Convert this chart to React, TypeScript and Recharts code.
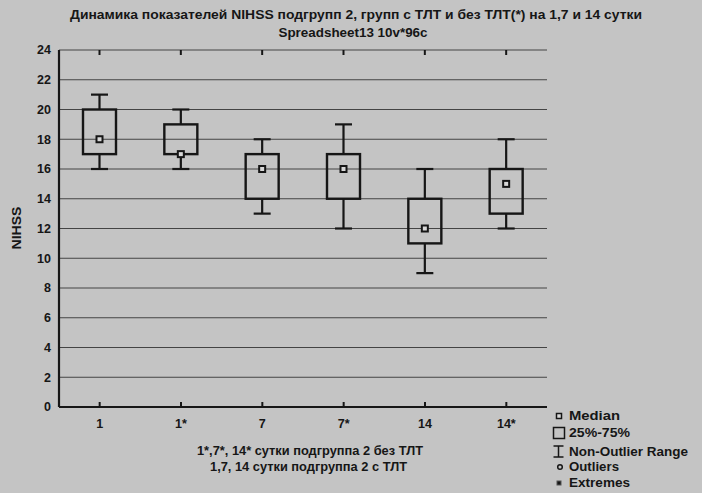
import React from 'react';
import { ComposedChart, Bar, XAxis, YAxis, CartesianGrid } from 'recharts';

const categories = ['1', '1*', '7', '7*', '14', '14*'];
const minValues = [16, 16, 13, 12, 9, 12];
const q1Values = [17, 17, 14, 14, 11, 13];
const medianValues = [18, 17, 16, 16, 12, 15];
const q3Values = [20, 19, 17, 17, 14, 16];
const maxValues = [21, 20, 18, 19, 16, 18];
const yTicks = [0, 2, 4, 6, 8, 10, 12, 14, 16, 18, 20, 22, 24];
const Y_TOP = yTicks[yTicks.length - 1];

const titleLine1 = 'Динамика показателей NIHSS подгрупп 2, групп с ТЛТ и без ТЛТ(*) на 1,7 и 14 сутки';
const titleLine2 = 'Spreadsheet13 10v*96c';
const xTitle1 = '1*,7*, 14* сутки подгруппа 2 без ТЛТ';
const xTitle2 = '1,7, 14 сутки подгруппа 2 с ТЛТ';
const yTitle = 'NIHSS';
const legendLabels = ['Median', '25%-75%', 'Non-Outlier Range', 'Outliers', 'Extremes'];

const data = categories.map((cat, i) => ({
  cat,
  min: minValues[i],
  q1: q1Values[i],
  median: medianValues[i],
  q3: q3Values[i],
  max: maxValues[i],
  range: [minValues[i], maxValues[i]],
}));

const INK = '#161616';
const BG = '#c4c4c4';
const FONT = "'Liberation Sans', Arial, sans-serif";

const BoxShape = (props: any) => {
  const { x, y, width, height, payload } = props;
  if (payload == null || height == null) return null;
  const span = payload.max - payload.min;
  const ppu = span > 0 ? height / span : 0;
  const toY = (v: number) => y + (payload.max - v) * ppu;
  const cx = x + width / 2;
  const capHalf = 8.5;
  const yMax = toY(payload.max);
  const yQ3 = toY(payload.q3);
  const yMed = toY(payload.median);
  const yQ1 = toY(payload.q1);
  const yMin = toY(payload.min);
  const yFrame = toY(Y_TOP);
  return (
    <g>
      <line x1={cx} x2={cx} y1={yFrame} y2={yFrame + 5} stroke={INK} strokeWidth={2} />
      <line x1={cx} x2={cx} y1={yMax} y2={yQ3} stroke={INK} strokeWidth={2.2} />
      <line x1={cx} x2={cx} y1={yQ1} y2={yMin} stroke={INK} strokeWidth={2.2} />
      <line x1={cx - capHalf} x2={cx + capHalf} y1={yMax} y2={yMax} stroke={INK} strokeWidth={2.2} />
      <line x1={cx - capHalf} x2={cx + capHalf} y1={yMin} y2={yMin} stroke={INK} strokeWidth={2.2} />
      <rect x={x} y={yQ3} width={width} height={yQ1 - yQ3} fill="none" stroke={INK} strokeWidth={2.4} />
      <rect x={cx - 3} y={yMed - 3} width={6} height={6} fill="#d8d8d8" stroke={INK} strokeWidth={2} />
    </g>
  );
};

const BottomTick = (props: any) => {
  const { x, y, payload } = props;
  return (
    <g>
      <line x1={x} x2={x} y1={y} y2={y - 5} stroke={INK} strokeWidth={2} />
      <text x={x} y={y + 21} textAnchor="middle" fontFamily={FONT} fontWeight="bold" fontSize={12.5} fill={INK}>
        {payload.value}
      </text>
    </g>
  );
};

export default function App() {
  return (
    <div style={{ position: 'absolute', left: 0, top: 0, width: 702, height: 493, background: BG, overflow: 'hidden' }}>
      <ComposedChart
        width={702}
        height={493}
        data={data}
        margin={{ top: 50, right: 155, bottom: 0, left: 0 }}
      >
        <CartesianGrid horizontal vertical={false} stroke="#444" strokeWidth={1.2} />
        <XAxis
          dataKey="cat"
          height={86}
          axisLine={{ stroke: INK, strokeWidth: 2.2 }}
          tickLine={false}
          tickSize={0}
          tickMargin={0}
          tick={<BottomTick />}
          interval={0}
        />
        <YAxis
          width={59}
          domain={[0, Y_TOP]}
          ticks={yTicks}
          interval={0}
          axisLine={{ stroke: INK, strokeWidth: 2.2 }}
          tickLine={false}
          tick={{ fontFamily: FONT, fontWeight: 'bold', fontSize: 12.5, fill: INK }}
        />
        <YAxis
          yAxisId="right"
          orientation="right"
          width={0}
          domain={[0, Y_TOP]}
          ticks={yTicks}
          axisLine={{ stroke: INK, strokeWidth: 2 }}
          tick={false}
          tickLine={false}
        />
        <Bar dataKey="range" barSize={33} fill="none" shape={<BoxShape />} isAnimationActive={false} />
      </ComposedChart>
      <svg
        width={702}
        height={493}
        style={{ position: 'absolute', left: 0, top: 0, pointerEvents: 'none' }}
        fontFamily={FONT}
        fontWeight="bold"
        fill={INK}
      >
        <text x={356} y={19} textAnchor="middle" fontSize={12.5} textLength={572} lengthAdjust="spacingAndGlyphs">
          {titleLine1}
        </text>
        <text x={353} y={37} textAnchor="middle" fontSize={12.5} textLength={149} lengthAdjust="spacingAndGlyphs">
          {titleLine2}
        </text>
        <text x={310} y={455} textAnchor="middle" fontSize={12.5} textLength={226} lengthAdjust="spacingAndGlyphs">
          {xTitle1}
        </text>
        <text x={308.5} y={471} textAnchor="middle" fontSize={12.5} textLength={197} lengthAdjust="spacingAndGlyphs">
          {xTitle2}
        </text>
        <text
          x={0}
          y={0}
          transform="translate(21,228) rotate(-90)"
          textAnchor="middle"
          fontSize={12.5}
          textLength={43}
          lengthAdjust="spacingAndGlyphs"
        >
          {yTitle}
        </text>
        {/* legend */}
        <rect x={556.5} y={413.5} width={5} height={5} fill="#d8d8d8" stroke={INK} strokeWidth={1.5} />
        <text x={569} y={420} fontSize={12.5} textLength={51} lengthAdjust="spacingAndGlyphs">{legendLabels[0]}</text>
        <rect x={553.5} y={427.5} width={11} height={11} fill="none" stroke={INK} strokeWidth={1.5} />
        <text x={569} y={437} fontSize={12.5} textLength={61} lengthAdjust="spacingAndGlyphs">{legendLabels[1]}</text>
        <line x1={558.5} x2={558.5} y1={446} y2={457} stroke={INK} strokeWidth={1.5} />
        <line x1={553.5} x2={563.5} y1={446} y2={446} stroke={INK} strokeWidth={1.5} />
        <line x1={553.5} x2={563.5} y1={457} y2={457} stroke={INK} strokeWidth={1.5} />
        <text x={569} y={456} fontSize={12.5} textLength={119} lengthAdjust="spacingAndGlyphs">{legendLabels[2]}</text>
        <circle cx={560} cy={467} r={2.3} fill="none" stroke={INK} strokeWidth={1.5} />
        <text x={569} y={471} fontSize={12.5} textLength={50} lengthAdjust="spacingAndGlyphs">{legendLabels[3]}</text>
        <rect x={557} y={481} width={4} height={4} fill={INK} stroke="#555" strokeWidth={1} />
        <text x={569} y={487} fontSize={12.5} textLength={61} lengthAdjust="spacingAndGlyphs">{legendLabels[4]}</text>
      </svg>
    </div>
  );
}
